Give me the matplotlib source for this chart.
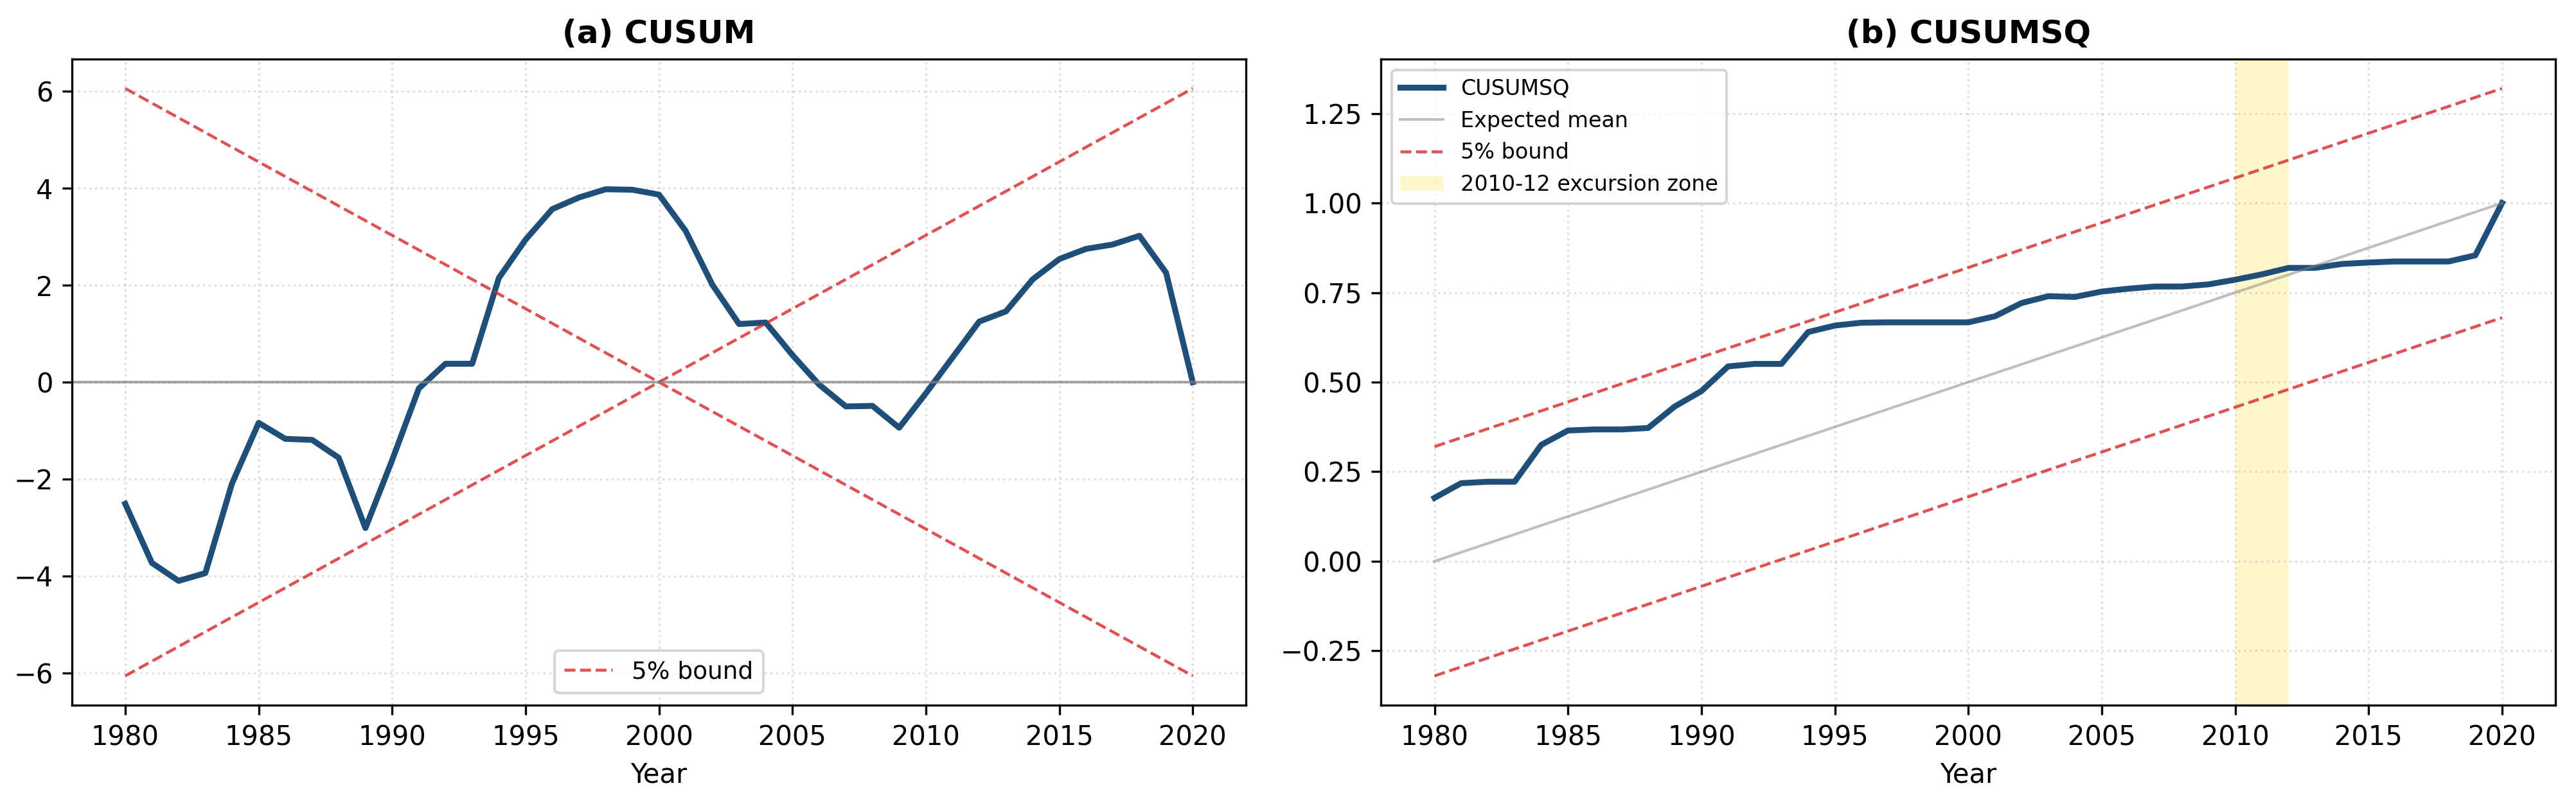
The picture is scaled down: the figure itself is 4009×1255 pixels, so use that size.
import numpy as np
import matplotlib
matplotlib.use('Agg')
import matplotlib.pyplot as plt

# data
years = np.arange(1980, 2021)

cusum = [-2.51, -3.73, -4.10, -3.94, -2.09, -0.84, -1.17, -1.19, -1.56, -3.01,
         -1.61, -0.13, 0.38, 0.38, 2.15, 2.94, 3.57, 3.81, 3.98, 3.97,
         3.87, 3.12, 2.01, 1.20, 1.23, 0.56, -0.05, -0.50, -0.49, -0.94,
         -0.23, 0.51, 1.25, 1.46, 2.12, 2.54, 2.75, 2.84, 3.02, 2.26,
         0.00]
cusum_bound_start = 6.06
cusum_bound_end = -6.06

cusumsq = [0.177, 0.218, 0.222, 0.222, 0.325, 0.365, 0.368, 0.368, 0.372, 0.432,
           0.475, 0.544, 0.551, 0.551, 0.640, 0.658, 0.666, 0.667, 0.667, 0.667,
           0.667, 0.684, 0.721, 0.740, 0.738, 0.753, 0.761, 0.767, 0.767, 0.773,
           0.786, 0.801, 0.819, 0.819, 0.830, 0.834, 0.837, 0.837, 0.837, 0.854,
           1.000]
expected_mean = [0.0, 1.0]
sq_band = 0.32
excursion = (2010, 2012)

blue = '#1f4e79'
red = '#d62728'

fig = plt.figure(figsize=(4009 / 300, 1255 / 300), dpi=300)
gs = fig.add_gridspec(1, 2, left=0.0279, right=0.992, bottom=0.125, top=0.9267, wspace=0.115)
ax1 = fig.add_subplot(gs[0, 0])
ax2 = fig.add_subplot(gs[0, 1])

# (a) CUSUM
ends = [years[0], years[-1]]
ax1.plot(years, cusum, color=blue, lw=2.2)
ax1.plot(ends, [cusum_bound_start, cusum_bound_end], color=red, ls='--', lw=1.1, alpha=0.8, label='5% bound')
ax1.plot(ends, [cusum_bound_end, cusum_bound_start], color=red, ls='--', lw=1.1, alpha=0.8)
ax1.axhline(0, color='gray', lw=1, alpha=0.7)
ax1.set_title('(a) CUSUM', fontsize=12, fontweight='bold')
ax1.set_xlabel('Year')
ax1.set_xticks(np.arange(1980, 2021, 5))
ax1.grid(True, linestyle=':', alpha=0.4)
ax1.legend(loc='lower center', fontsize=9)

# (b) CUSUMSQ
ax2.plot(years, cusumsq, color=blue, lw=2.2, label='CUSUMSQ')
ax2.plot(ends, expected_mean, color='gray', lw=1, alpha=0.5, label='Expected mean')
ax2.plot(ends, [expected_mean[0] + sq_band, expected_mean[1] + sq_band], color=red, ls='--', lw=1.1, alpha=0.8, label='5% bound')
ax2.plot(ends, [expected_mean[0] - sq_band, expected_mean[1] - sq_band], color=red, ls='--', lw=1.1, alpha=0.8)
ax2.axvspan(excursion[0], excursion[1], color='gold', alpha=0.2, lw=0, label='2010-12 excursion zone')
ax2.set_title('(b) CUSUMSQ', fontsize=12, fontweight='bold')
ax2.set_xlabel('Year')
ax2.set_xticks(np.arange(1980, 2021, 5))
ax2.grid(True, linestyle=':', alpha=0.4)
ax2.legend(loc='upper left', fontsize=8)

fig.savefig('out.png', dpi=300)
